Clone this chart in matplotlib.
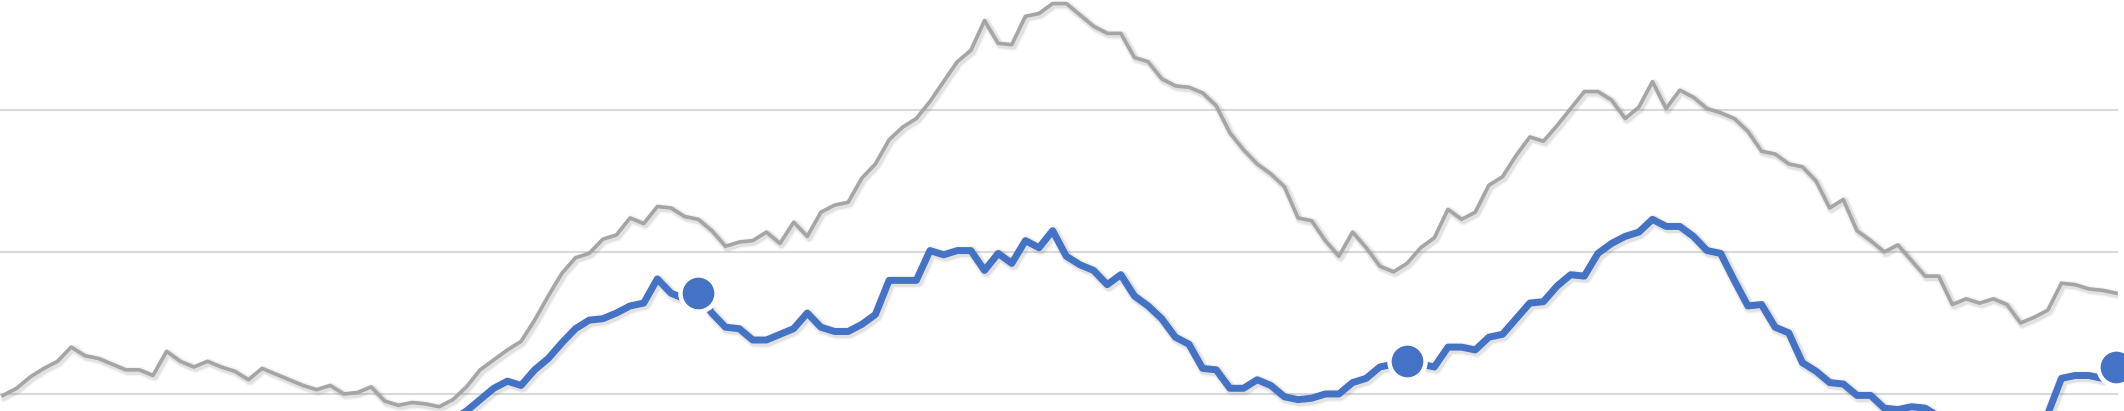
import numpy as np
import matplotlib
matplotlib.use("Agg")
import matplotlib.pyplot as plt
import matplotlib.patheffects as pe

nan = np.nan

# weekly values, 156 weeks
weeks = list(range(156))

gray_series = [
    99, 104, 112, 118, 123, 133, 127, 125, 121, 117,
    117, 113, 130, 123, 119, 123, 119, 116, 110, 118,
    114, 110, 106, 103, 106, 100, 101, 105, 95, 92,
    94, 93, 91, 96, 105, 117, 124, 131, 137, 152,
    169, 185, 196, 199, 209, 212, 224, 220, 232, 231,
    225, 223, 215, 204, 207, 208, 214, 206, 221, 211,
    228, 233, 235, 252, 262, 279, 288, 294, 306, 320,
    334, 342, 363, 347, 346, 366, 368, 375, 375, 367,
    359, 354, 354, 337, 334, 322, 317, 316, 312, 303,
    284, 272, 262, 255, 246, 224, 222, 208, 197, 214,
    203, 190, 186, 192, 203, 210, 230, 223, 228, 247,
    253, 268, 281, 278, 289, 301, 313, 313, 307, 294,
    302, 320, 301, 314, 309, 301, 298, 294, 285, 271,
    269, 262, 260, 250, 231, 237, 215, 208, 200, 205,
    194, 183, 183, 163, 167, 164, 167, 163, 150, 154,
    159, 178, 177, 174, 173, 171,
]

blue_series = [nan] * 33 + [
    82, 88, 96, 104, 109, 106, 117,
    125, 136, 146, 152, 153, 157, 162, 164, 181, 171,
    167, 171, 157, 147, 146, 138, 138, 142, 146, 157,
    147, 144, 144, 149, 156, 180, 180, 180, 201, 198,
    201, 201, 187, 199, 192, 208, 203, 215, 197, 191,
    187, 177, 184, 169, 162, 153, 140, 135, 118, 117,
    104, 104, 110, 106, 98, 96, 97, 100, 100, 108,
    111, 119, 121, 123, 121, 119, 133, 133, 131, 140,
    142, 153, 164, 165, 176, 184, 183, 199, 206, 211,
    214, 223, 218, 218, 211, 201, 199, 180, 162, 163,
    147, 143, 122, 116, 108, 107, 99, 99, 90, 89,
    91, 90, 84, nan, nan, nan, nan, nan, nan, 80,
    86, 111, 113, 113, 111, 119,
]

marked_weeks = [51, 103, 155]
grid_levels = [100, 200, 300]

fig = plt.figure(figsize=(21.24, 4.11), dpi=100)
ax = fig.add_axes([0, 0, 2118 / 2124, 1])
ax.set_xlim(-0.22, 155.15)
ax.set_ylim(88, 377.5)
ax.axis("off")

for g in grid_levels:
    ax.axhline(g, color="#d9d9d9", lw=1.5, zorder=1)


def soft_shadow(lw):
    # rough stand-in for the blurred excel shadow
    return [
        pe.Stroke(linewidth=lw + 4, foreground="#777777", alpha=0.08, offset=(1.2, -1.2)),
        pe.Stroke(linewidth=lw + 2, foreground="#777777", alpha=0.15, offset=(1.2, -1.2)),
        pe.Normal(),
    ]


ax.plot(weeks, gray_series, color="#a5a5a5", lw=2.6, zorder=2,
        solid_joinstyle="round", path_effects=soft_shadow(2.6))
ax.plot(weeks, blue_series, color="#4472c4", lw=5.0, zorder=3,
        solid_joinstyle="round", path_effects=soft_shadow(5.0))
ax.plot(marked_weeks, [blue_series[i] for i in marked_weeks], "o", color="#4472c4",
        ms=26, mec="white", mew=3.2, zorder=4, clip_on=False)

fig.savefig("out.png", dpi=100)
